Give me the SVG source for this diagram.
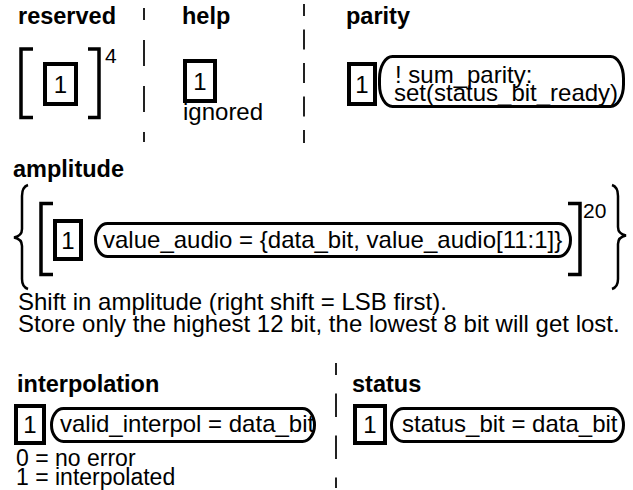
<svg xmlns="http://www.w3.org/2000/svg" width="633" height="490" viewBox="0 0 633 490">
<style>
text{font-family:"Liberation Sans",Arial,sans-serif;fill:#000}
.t{font-size:23.5px;font-weight:bold}
.b{font-size:24px}
.m{font-size:23px}
.s{font-size:21px}
.box{fill:#fff;stroke:#000;stroke-width:4}
.act{fill:#fff;stroke:#000;stroke-width:3}
.br{fill:none;stroke:#000;stroke-width:3.5}
.cb{fill:none;stroke:#000;stroke-width:2.5}
.sep{stroke:#222;stroke-width:2;fill:none}
</style>
<rect width="633" height="490" fill="#fff"/>
<g id="separators">
<line class="sep" x1="144" y1="8" x2="144" y2="142" stroke-dasharray="26 20" stroke-dashoffset="14"/>
<line class="sep" x1="304" y1="4" x2="304" y2="143" stroke-dasharray="20 13.5" stroke-dashoffset="8"/>
<line class="sep" x1="336" y1="363" x2="336" y2="488" stroke-dasharray="23.5 18.5" stroke-dashoffset="11.5"/>
</g>
<g id="reserved">
<text class="t" x="18" y="24">reserved</text>
<path class="br" d="M33 49H21V117.5H33M88 49H99V117.5H88"/>
<text class="s" x="105" y="63">4</text>
<rect class="box" x="45" y="64" width="31" height="40"/>
<text class="b" x="60.5" y="93" text-anchor="middle">1</text>
</g>
<g id="help">
<text class="t" x="182" y="24">help</text>
<rect class="box" x="185" y="61" width="30" height="40"/>
<text class="b" x="200" y="90" text-anchor="middle">1</text>
<text class="b" x="183" y="120">ignored</text>
</g>
<g id="parity">
<text class="t" x="346" y="24">parity</text>
<rect class="box" x="349" y="64" width="26" height="40"/>
<text class="b" x="362" y="93" text-anchor="middle">1</text>
<rect class="act" x="379.5" y="56.5" width="244" height="50" rx="13" ry="22"/>
<text class="b" x="395" y="82.5">! sum_parity:</text>
<text class="b" x="394" y="101">set(status_bit_ready)</text>
</g>
<g id="amplitude">
<text class="t" x="13" y="177">amplitude</text>
<path class="cb" d="M28 185Q22 187 22 196V229Q22 236 14 237.5Q22 239 22 246V279Q22 287 28 289"/>
<path class="cb" d="M612 185Q618 187 618 196V227Q618 234 626 235.5Q618 237 618 244V279Q618 287 612 289"/>
<path class="br" d="M53 203.5H41V274.5H53M568 203.5H580V274.5H568"/>
<text class="s" x="583" y="218">20</text>
<rect class="box" x="55" y="221" width="26" height="38"/>
<text class="b" x="68" y="248.5" text-anchor="middle">1</text>
<rect class="act" x="95.5" y="223.5" width="475" height="33" rx="12" ry="16.5"/>
<text class="b" x="103" y="248">value_audio = {data_bit, value_audio[11:1]}</text>
<text class="b" x="18" y="310">Shift in amplitude (right shift = LSB first).</text>
<text class="b" x="18" y="332">Store only the highest 12 bit, the lowest 8 bit will get lost.</text>
</g>
<g id="interpolation">
<text class="t" x="17" y="392">interpolation</text>
<rect class="box" x="16" y="406" width="28" height="37"/>
<text class="b" x="30" y="433" text-anchor="middle">1</text>
<rect class="act" x="51.5" y="408.5" width="263" height="33" rx="12" ry="16.5"/>
<text class="b" x="60" y="432">valid_interpol = data_bit</text>
<text class="m" x="16" y="466">0 = no error</text>
<text class="m" x="16" y="485">1 = interpolated</text>
</g>
<g id="status">
<text class="t" x="352" y="392">status</text>
<rect class="box" x="355" y="406" width="30" height="37"/>
<text class="b" x="370" y="433" text-anchor="middle">1</text>
<rect class="act" x="391.5" y="408.5" width="232" height="33" rx="12" ry="16.5"/>
<text class="b" x="402" y="432">status_bit = data_bit</text>
</g>
</svg>
